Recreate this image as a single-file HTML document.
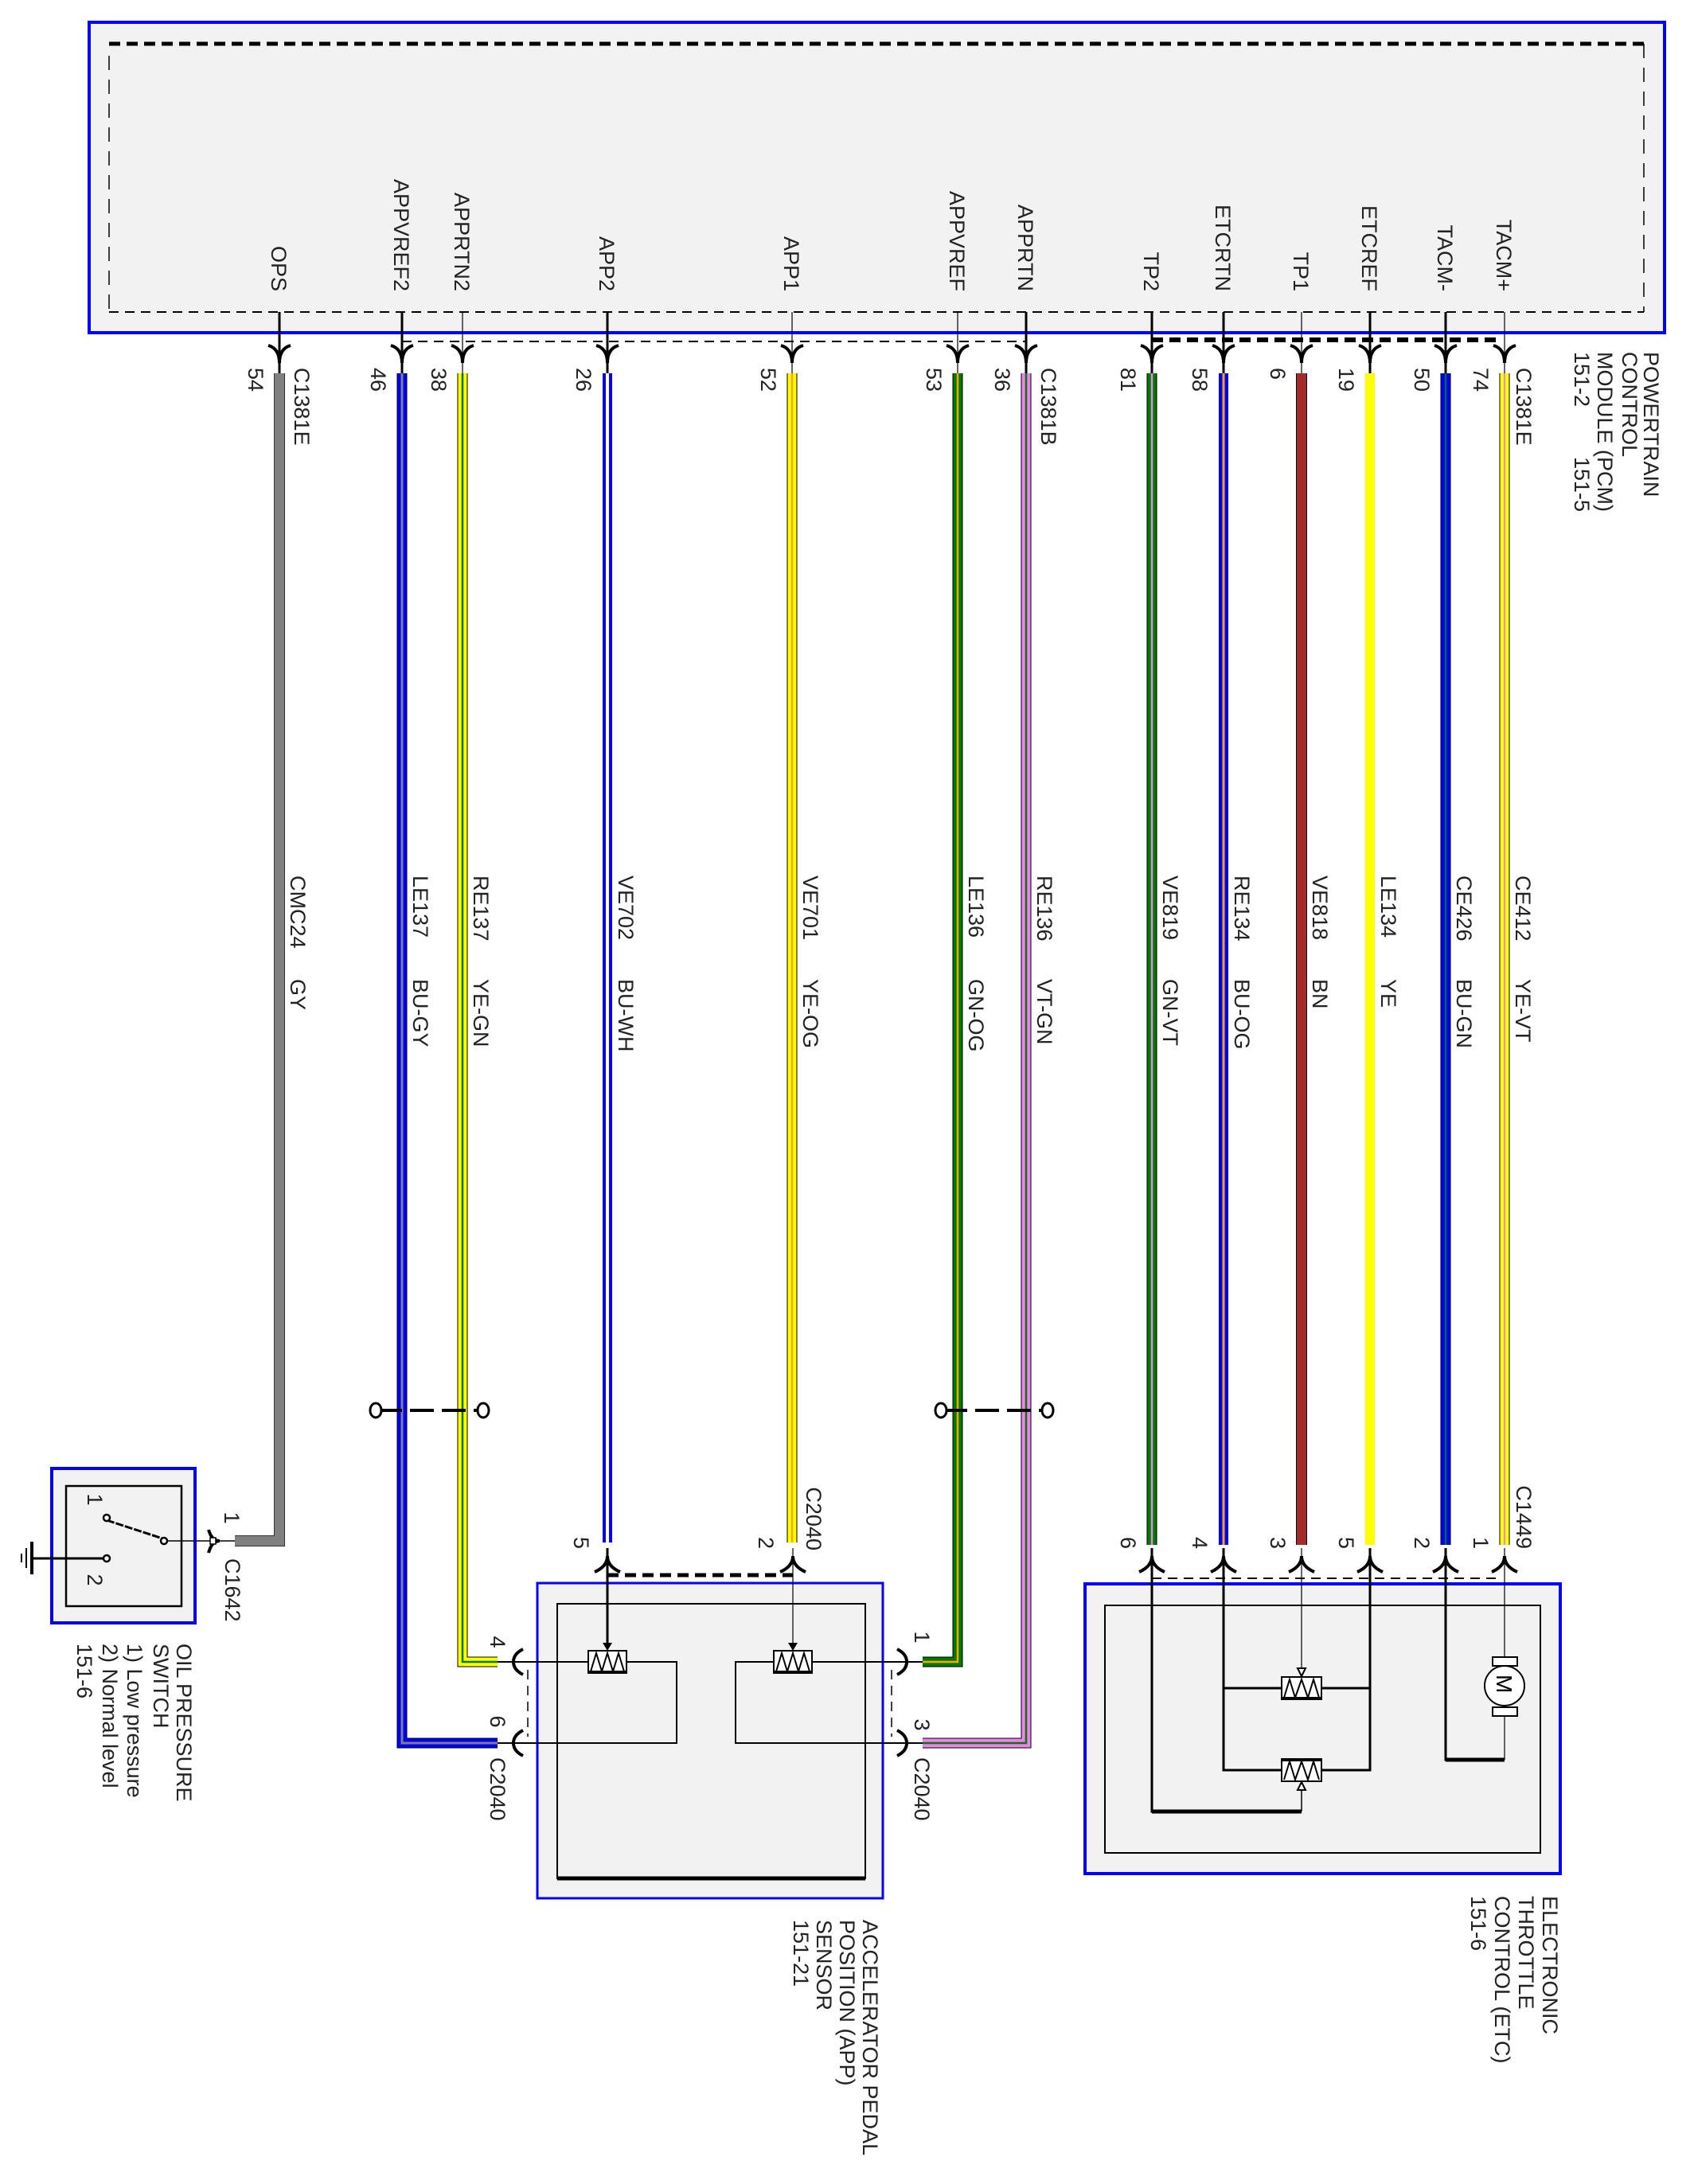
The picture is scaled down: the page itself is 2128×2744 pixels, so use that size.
<!DOCTYPE html>
<html><head><meta charset="utf-8"><style>
html,body{margin:0;padding:0;background:#fff;}
svg{display:block;}
text{font-family:"Liberation Sans",Arial,sans-serif;font-size:27px;fill:#222;}
</style></head><body>
<svg width="2128" height="2744" viewBox="0 0 2128 2744" xmlns="http://www.w3.org/2000/svg">
<!-- PCM -->
<rect x="112" y="28" width="1979" height="390" fill="#f2f2f2" stroke="#0000ff" stroke-width="4"/>
<line x1="137" y1="55" x2="2065" y2="55" stroke="#000" stroke-width="5" stroke-dasharray="14 8"/>
<line x1="137" y1="392" x2="2065" y2="392" stroke="#000" stroke-width="2" stroke-dasharray="12 8"/>
<line x1="137" y1="70" x2="137" y2="392" stroke="#000" stroke-width="1.5" stroke-dasharray="18 12"/>
<line x1="2065" y1="55" x2="2065" y2="392" stroke="#000" stroke-width="1.5" stroke-dasharray="18 12"/>
<line x1="505" y1="429" x2="1289" y2="429" stroke="#000" stroke-width="2" stroke-dasharray="12 8"/>
<line x1="1447" y1="427" x2="1884" y2="427" stroke="#000" stroke-width="6" stroke-dasharray="14 8"/>

<!-- pin lines from PCM -->
<g stroke="#000" fill="none">
<line x1="351" y1="392" x2="351" y2="469" stroke-width="3"/>
<line x1="505" y1="392" x2="505" y2="469" stroke-width="3"/>
<line x1="581" y1="392" x2="581" y2="469" stroke-width="1.2"/>
<line x1="763" y1="392" x2="763" y2="469" stroke-width="3"/>
<line x1="995" y1="392" x2="995" y2="469" stroke-width="1.2"/>
<line x1="1203" y1="392" x2="1203" y2="469" stroke-width="1.2"/>
<line x1="1289" y1="392" x2="1289" y2="469" stroke-width="3"/>
<line x1="1447" y1="392" x2="1447" y2="469" stroke-width="3"/>
<line x1="1537" y1="392" x2="1537" y2="469" stroke-width="3"/>
<line x1="1635" y1="392" x2="1635" y2="469" stroke-width="1.2"/>
<line x1="1721" y1="392" x2="1721" y2="469" stroke-width="3"/>
<line x1="1816" y1="392" x2="1816" y2="469" stroke-width="3"/>
<line x1="1890" y1="392" x2="1890" y2="469" stroke-width="1.2"/>
</g>
<!-- PCM arrows -->
<g stroke="#000" stroke-width="4" fill="none">
<path d="M337,434 Q351,438 351,456 Q351,438 365,434"/>
<path d="M491,434 Q505,438 505,456 Q505,438 519,434"/>
<path d="M567,434 Q581,438 581,456 Q581,438 595,434"/>
<path d="M749,434 Q763,438 763,456 Q763,438 777,434"/>
<path d="M981,434 Q995,438 995,456 Q995,438 1009,434"/>
<path d="M1189,434 Q1203,438 1203,456 Q1203,438 1217,434"/>
<path d="M1275,434 Q1289,438 1289,456 Q1289,438 1303,434"/>
<path d="M1433,434 Q1447,438 1447,456 Q1447,438 1461,434"/>
<path d="M1523,434 Q1537,438 1537,456 Q1537,438 1551,434"/>
<path d="M1621,434 Q1635,438 1635,456 Q1635,438 1649,434"/>
<path d="M1707,434 Q1721,438 1721,456 Q1721,438 1735,434"/>
<path d="M1802,434 Q1816,438 1816,456 Q1816,438 1830,434"/>
<path d="M1876,434 Q1890,438 1890,456 Q1890,438 1904,434"/>
</g>

<!-- WIRES -->
<g fill="none" stroke-linejoin="miter">
<!-- OPS gray -->
<polyline points="351,469 351,1936 295,1936" stroke="#333" stroke-width="14"/>
<polyline points="351,469 351,1936 295,1936" stroke="#808080" stroke-width="12"/>
<!-- APPVREF2 BU-GY -->
<polyline points="505,469 505,2190 625,2190" stroke="#000" stroke-width="13"/>
<polyline points="505,469 505,2190 625,2190" stroke="#0000ff" stroke-width="11"/>
<polyline points="505,469 505,2190 625,2190" stroke="#808080" stroke-width="3"/>
<!-- APPRTN2 YE-GN -->
<polyline points="581,469 581,2088 625,2088" stroke="#000" stroke-width="13"/>
<polyline points="581,469 581,2088 625,2088" stroke="#ffff00" stroke-width="11"/>
<polyline points="581,469 581,2088 625,2088" stroke="#007a00" stroke-width="2.5"/>
<!-- APP2 BU-WH -->
<polyline points="763,469 763,1938" stroke="#0000ff" stroke-width="12"/>
<polyline points="763,469 763,1938" stroke="#fff" stroke-width="4"/>
<!-- APP1 YE-OG -->
<polyline points="995,469 995,1938" stroke="#000" stroke-width="13"/>
<polyline points="995,469 995,1938" stroke="#ffff00" stroke-width="11"/>
<polyline points="995,469 995,1938" stroke="#ffa500" stroke-width="2.5"/>
<!-- APPVREF GN-OG -->
<polyline points="1203,469 1203,2088 1159,2088" stroke="#000" stroke-width="13"/>
<polyline points="1203,469 1203,2088 1159,2088" stroke="#007a00" stroke-width="11"/>
<polyline points="1203,469 1203,2088 1159,2088" stroke="#ffa500" stroke-width="2.5"/>
<!-- APPRTN VT-GN -->
<polyline points="1289,469 1289,2190 1159,2190" stroke="#000" stroke-width="13"/>
<polyline points="1289,469 1289,2190 1159,2190" stroke="#ee82ee" stroke-width="11"/>
<polyline points="1289,469 1289,2190 1159,2190" stroke="#007a00" stroke-width="2.5"/>
<!-- TP2 GN-VT -->
<line x1="1447" y1="469" x2="1447" y2="1941" stroke="#000" stroke-width="13"/>
<line x1="1447" y1="469" x2="1447" y2="1941" stroke="#007a00" stroke-width="11"/>
<line x1="1447" y1="469" x2="1447" y2="1941" stroke="#ee82ee" stroke-width="2.5"/>
<!-- ETCRTN BU-OG -->
<line x1="1537" y1="469" x2="1537" y2="1941" stroke="#0000ff" stroke-width="12"/>
<line x1="1537" y1="469" x2="1537" y2="1941" stroke="#ffa500" stroke-width="3"/>
<!-- TP1 BN -->
<line x1="1635" y1="469" x2="1635" y2="1941" stroke="#000" stroke-width="14"/>
<line x1="1635" y1="469" x2="1635" y2="1941" stroke="#a52a2a" stroke-width="12"/>
<!-- ETCREF YE -->
<line x1="1721" y1="469" x2="1721" y2="1941" stroke="#ffff00" stroke-width="12"/>
<!-- TACM- BU-GN -->
<line x1="1816" y1="469" x2="1816" y2="1941" stroke="#000" stroke-width="13"/>
<line x1="1816" y1="469" x2="1816" y2="1941" stroke="#0000ff" stroke-width="11"/>
<line x1="1816" y1="469" x2="1816" y2="1941" stroke="#007a00" stroke-width="2"/>
<!-- TACM+ YE-VT -->
<line x1="1890" y1="469" x2="1890" y2="1941" stroke="#000" stroke-width="13"/>
<line x1="1890" y1="469" x2="1890" y2="1941" stroke="#ffff00" stroke-width="11"/>
<line x1="1890" y1="469" x2="1890" y2="1941" stroke="#ee82ee" stroke-width="2"/>
</g>

<!-- twist symbols -->
<g stroke="#000" stroke-width="3" fill="#fff">
<line x1="475" y1="1772" x2="604" y2="1772" stroke-width="4" stroke-dasharray="30 10"/>
<ellipse cx="472" cy="1772" rx="7" ry="9"/>
<ellipse cx="607" cy="1772" rx="7" ry="9"/>
<line x1="1185" y1="1772" x2="1313" y2="1772" stroke-width="4" stroke-dasharray="30 10"/>
<ellipse cx="1182" cy="1772" rx="7" ry="9"/>
<ellipse cx="1316" cy="1772" rx="7" ry="9"/>
</g>

<!-- OIL PRESSURE SWITCH -->
<rect x="65" y="1845" width="180" height="194" fill="#f2f2f2" stroke="#0000ff" stroke-width="4"/>
<rect x="83" y="1867" width="145" height="151" fill="#f2f2f2" stroke="#000" stroke-width="2.5"/>
<g stroke="#000" fill="#fff" stroke-width="2.5">
<line x1="206" y1="1936" x2="295" y2="1936" stroke-width="1.5"/>
<line x1="134" y1="1910" x2="204" y2="1933" stroke-width="3" stroke-dasharray="10 2"/>
<line x1="40" y1="1958" x2="134" y2="1958" stroke-width="3"/>
<circle cx="134" cy="1907" r="4"/>
<circle cx="206" cy="1936" r="4"/>
<circle cx="134" cy="1958" r="4"/>
<line x1="40" y1="1937" x2="40" y2="1978" stroke-width="4"/>
<line x1="33" y1="1945" x2="33" y2="1970" stroke-width="2"/>
<line x1="27" y1="1952" x2="27" y2="1963" stroke-width="2"/>
<path d="M262,1922 Q266,1936 276,1936 Q266,1936 262,1951" fill="none" stroke-width="4"/>
<rect x="264" y="1932" width="7" height="8" stroke-width="1.5"/>
</g>

<!-- APP SENSOR -->
<rect x="675" y="1989" width="434" height="396" fill="#f2f2f2" stroke="#0000ff" stroke-width="3"/>
<rect x="700" y="2015" width="387" height="345" fill="#f2f2f2" stroke="#000" stroke-width="2"/>
<line x1="700" y1="2360" x2="1087" y2="2360" stroke="#000" stroke-width="5"/>
<line x1="763" y1="1979" x2="996" y2="1979" stroke="#000" stroke-width="5" stroke-dasharray="14 8"/>
<g stroke="#000" fill="none" stroke-width="2">
<polyline points="625,2088 739,2088"/>
<polyline points="787,2088 850,2088 850,2190 625,2190"/>
<polyline points="1020,2088 1159,2088"/>
<polyline points="972,2088 924,2088 924,2190 1159,2190"/>
<line x1="763" y1="1945" x2="763" y2="2070" stroke-width="3"/>
<line x1="996" y1="1945" x2="996" y2="2070" stroke-width="1.2"/>
<line x1="663" y1="2098" x2="663" y2="2182" stroke-width="1.5" stroke-dasharray="12 8"/>
<line x1="1120" y1="2098" x2="1120" y2="2182" stroke-width="1.5" stroke-dasharray="12 8"/>
</g>
<g stroke="#000" stroke-width="4" fill="none">
<path d="M747,1975 Q763,1968 763,1955 Q763,1968 779,1975"/>
<path d="M980,1975 Q996,1968 996,1955 Q996,1968 1012,1975"/>
<path d="M657,2072 Q645,2078 645,2088 Q645,2098 657,2104"/>
<path d="M657,2174 Q645,2180 645,2190 Q645,2200 657,2206"/>
<path d="M1127,2072 Q1139,2078 1139,2088 Q1139,2098 1127,2104"/>
<path d="M1127,2174 Q1139,2180 1139,2190 Q1139,2200 1127,2206"/>
</g>
<g fill="#000"><path d="M757,2064 L769,2064 L763,2074 Z"/><path d="M990,2064 L1002,2064 L996,2074 Z"/></g>
<!-- resistors -->
<g stroke="#000" fill="#fff" stroke-width="2">
<rect x="739" y="2074" width="48" height="28"/>
<polyline points="742,2100 749,2077 756,2100 763,2077 770,2100 777,2077 784,2100" fill="none"/>
<line x1="739" y1="2101" x2="787" y2="2101" stroke-width="4"/>
<rect x="972" y="2074" width="48" height="28"/>
<polyline points="975,2100 982,2077 989,2100 996,2077 1003,2100 1010,2077 1017,2100" fill="none"/>
<line x1="972" y1="2101" x2="1020" y2="2101" stroke-width="4"/>
</g>

<!-- ETC -->
<rect x="1363" y="1990" width="597" height="364" fill="#f2f2f2" stroke="#0000ff" stroke-width="4"/>
<rect x="1388" y="2017" width="547" height="311" fill="#f2f2f2" stroke="#000" stroke-width="2"/>
<line x1="1447" y1="1983" x2="1884" y2="1983" stroke="#000" stroke-width="2" stroke-dasharray="12 8"/>
<g stroke="#000" fill="none" stroke-width="3">
<polyline points="1447,1945 1447,2276 1635,2276"/>
<line x1="1635" y1="2276" x2="1635" y2="2240" stroke-width="1.5"/>
<polyline points="1537,1945 1537,2224 1610,2224"/>
<polyline points="1660,2224 1721,2224 1721,1945"/>
<line x1="1537" y1="2121" x2="1610" y2="2121"/>
<line x1="1660" y1="2121" x2="1721" y2="2121"/>
<line x1="1635" y1="1945" x2="1635" y2="2100" stroke-width="1.2"/>
<polyline points="1816,1945 1816,2211 1890,2211" />
<line x1="1890" y1="2211" x2="1890" y2="2156" stroke-width="1.2"/>
<line x1="1890" y1="1945" x2="1890" y2="2082" stroke-width="1.2"/>
<line x1="1816" y1="2211" x2="1890" y2="2211" stroke-width="5"/>
<line x1="1447" y1="2276" x2="1635" y2="2276" stroke-width="5"/>
</g>
<g stroke="#000" stroke-width="4" fill="none">
<path d="M1431,1975 Q1447,1968 1447,1955 Q1447,1968 1463,1975"/>
<path d="M1521,1975 Q1537,1968 1537,1955 Q1537,1968 1553,1975"/>
<path d="M1619,1975 Q1635,1968 1635,1955 Q1635,1968 1651,1975"/>
<path d="M1705,1975 Q1721,1968 1721,1955 Q1721,1968 1737,1975"/>
<path d="M1800,1975 Q1816,1968 1816,1955 Q1816,1968 1832,1975"/>
<path d="M1874,1975 Q1890,1968 1890,1955 Q1890,1968 1906,1975"/>
</g>
<g stroke="#000" fill="#fff" stroke-width="2">
<rect x="1610" y="2107" width="50" height="28"/>
<polyline points="1613,2133 1620,2110 1627,2133 1635,2110 1643,2133 1650,2110 1657,2133" fill="none"/>
<line x1="1610" y1="2134" x2="1660" y2="2134" stroke-width="4"/>
<path d="M1630,2096 L1640,2096 L1635,2106 Z"/>
<rect x="1610" y="2210" width="50" height="28"/>
<polyline points="1613,2236 1620,2213 1627,2236 1635,2213 1643,2236 1650,2213 1657,2236" fill="none"/>
<line x1="1610" y1="2211" x2="1660" y2="2211" stroke-width="4"/>
<path d="M1630,2249 L1640,2249 L1635,2239 Z"/>
<rect x="1875" y="2082" width="31" height="11"/>
<rect x="1875" y="2145" width="31" height="11"/>
<circle cx="1890" cy="2118" r="25"/>
</g>
<text transform="translate(1880,2104) rotate(90)" font-size="28" style="font-size:28px;fill:#000">M</text>

<!-- PCM pin names -->
<g text-anchor="end">
<text transform="translate(341,366) rotate(90)">OPS</text>
<text transform="translate(495,366) rotate(90)">APPVREF2</text>
<text transform="translate(571,366) rotate(90)">APPRTN2</text>
<text transform="translate(753,366) rotate(90)">APP2</text>
<text transform="translate(985,366) rotate(90)">APP1</text>
<text transform="translate(1193,366) rotate(90)">APPVREF</text>
<text transform="translate(1279,366) rotate(90)">APPRTN</text>
<text transform="translate(1437,366) rotate(90)">TP2</text>
<text transform="translate(1527,366) rotate(90)">ETCRTN</text>
<text transform="translate(1625,366) rotate(90)">TP1</text>
<text transform="translate(1711,366) rotate(90)">ETCREF</text>
<text transform="translate(1806,366) rotate(90)">TACM-</text>
<text transform="translate(1880,366) rotate(90)">TACM+</text>
</g>
<!-- PCM pin numbers -->
<g>
<text transform="translate(312,462) rotate(90)">54</text>
<text transform="translate(370,462) rotate(90)">C1381E</text>
<text transform="translate(466,462) rotate(90)">46</text>
<text transform="translate(542,462) rotate(90)">38</text>
<text transform="translate(724,462) rotate(90)">26</text>
<text transform="translate(956,462) rotate(90)">52</text>
<text transform="translate(1164,462) rotate(90)">53</text>
<text transform="translate(1250,462) rotate(90)">36</text>
<text transform="translate(1308,462) rotate(90)">C1381B</text>
<text transform="translate(1408,462) rotate(90)">81</text>
<text transform="translate(1498,462) rotate(90)">58</text>
<text transform="translate(1596,462) rotate(90)">6</text>
<text transform="translate(1682,462) rotate(90)">19</text>
<text transform="translate(1777,462) rotate(90)">50</text>
<text transform="translate(1851,462) rotate(90)">74</text>
<text transform="translate(1905,462) rotate(90)">C1381E</text>
<text transform="translate(2065,442) rotate(90)">POWERTRAIN</text>
<text transform="translate(2038,442) rotate(90)">CONTROL</text>
<text transform="translate(2007,442) rotate(90)">MODULE (PCM)</text>
<text transform="translate(1978,442) rotate(90)">151-2</text>
<text transform="translate(1978,574) rotate(90)">151-5</text>
</g>
<!-- wire labels -->
<g>
<text transform="translate(365,1100) rotate(90)">CMC24</text><text transform="translate(365,1230) rotate(90)">GY</text>
<text transform="translate(519,1100) rotate(90)">LE137</text><text transform="translate(519,1230) rotate(90)">BU-GY</text>
<text transform="translate(595,1100) rotate(90)">RE137</text><text transform="translate(595,1230) rotate(90)">YE-GN</text>
<text transform="translate(777,1100) rotate(90)">VE702</text><text transform="translate(777,1230) rotate(90)">BU-WH</text>
<text transform="translate(1009,1100) rotate(90)">VE701</text><text transform="translate(1009,1230) rotate(90)">YE-OG</text>
<text transform="translate(1217,1100) rotate(90)">LE136</text><text transform="translate(1217,1230) rotate(90)">GN-OG</text>
<text transform="translate(1303,1100) rotate(90)">RE136</text><text transform="translate(1303,1230) rotate(90)">VT-GN</text>
<text transform="translate(1461,1100) rotate(90)">VE819</text><text transform="translate(1461,1230) rotate(90)">GN-VT</text>
<text transform="translate(1551,1100) rotate(90)">RE134</text><text transform="translate(1551,1230) rotate(90)">BU-OG</text>
<text transform="translate(1649,1100) rotate(90)">VE818</text><text transform="translate(1649,1230) rotate(90)">BN</text>
<text transform="translate(1735,1100) rotate(90)">LE134</text><text transform="translate(1735,1230) rotate(90)">YE</text>
<text transform="translate(1830,1100) rotate(90)">CE426</text><text transform="translate(1830,1230) rotate(90)">BU-GN</text>
<text transform="translate(1904,1100) rotate(90)">CE412</text><text transform="translate(1904,1230) rotate(90)">YE-VT</text>
</g>
<!-- lower pin labels -->
<g text-anchor="end">
<text transform="translate(721,1946) rotate(90)">5</text>
<text transform="translate(953,1946) rotate(90)">2</text>
<text transform="translate(1013,1948) rotate(90)">C2040</text>
<text transform="translate(1408,1946) rotate(90)">6</text>
<text transform="translate(1498,1946) rotate(90)">4</text>
<text transform="translate(1596,1946) rotate(90)">3</text>
<text transform="translate(1682,1946) rotate(90)">5</text>
<text transform="translate(1777,1946) rotate(90)">2</text>
<text transform="translate(1851,1946) rotate(90)">1</text>
<text transform="translate(1905,1946) rotate(90)">C1449</text>
</g>
<g text-anchor="middle">
<text transform="translate(616,2063) rotate(90)">4</text>
<text transform="translate(616,2163) rotate(90)">6</text>
<text transform="translate(1149,2057) rotate(90)">1</text>
<text transform="translate(1149,2167) rotate(90)">3</text>
<text transform="translate(282,1907) rotate(90)">1</text>
<text transform="translate(110,1884) rotate(90)">1</text>
<text transform="translate(110,1985) rotate(90)">2</text>
</g>
<g>
<text transform="translate(616,2208) rotate(90)">C2040</text>
<text transform="translate(1149,2208) rotate(90)">C2040</text>
<text transform="translate(283,1958) rotate(90)">C1642</text>
<text transform="translate(222,2065) rotate(90)">OIL PRESSURE</text>
<text transform="translate(193,2065) rotate(90)">SWITCH</text>
<text transform="translate(160,2065) rotate(90)">1) Low pressure</text>
<text transform="translate(129,2065) rotate(90)">2) Normal level</text>
<text transform="translate(97,2065) rotate(90)">151-6</text>
<text transform="translate(1084,2412) rotate(90)">ACCELERATOR PEDAL</text>
<text transform="translate(1055,2412) rotate(90)">POSITION (APP)</text>
<text transform="translate(1026,2412) rotate(90)">SENSOR</text>
<text transform="translate(997,2412) rotate(90)">151-21</text>
<text transform="translate(1938,2382) rotate(90)">ELECTRONIC</text>
<text transform="translate(1908,2382) rotate(90)">THROTTLE</text>
<text transform="translate(1878,2382) rotate(90)">CONTROL (ETC)</text>
<text transform="translate(1848,2382) rotate(90)">151-6</text>
</g>
</svg>
</body></html>
